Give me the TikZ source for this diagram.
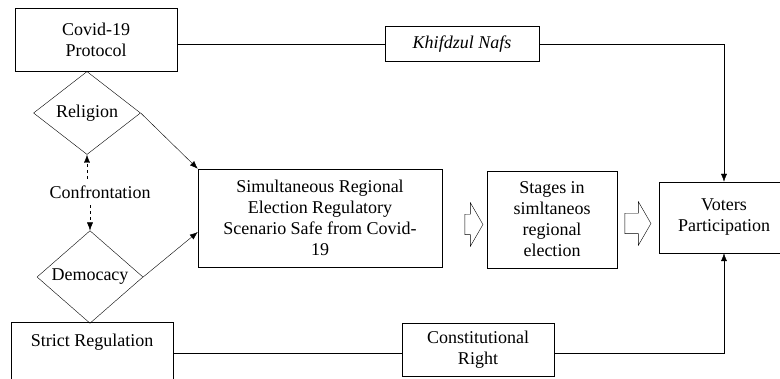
\documentclass[tikz,border=0pt]{standalone}
\usepackage{fontspec}
\setmainfont{Liberation Serif}
\usepackage{tikz}
\usetikzlibrary{arrows.meta}
\usetikzlibrary{shapes.geometric,shapes.arrows}

\begin{document}
\begin{tikzpicture}[x=1pt,y=-1pt,
  boxnode/.style={draw, rectangle, align=center, inner sep=0pt, font=\fontsize{18}{21}\selectfont},
  diamondnode/.style={draw, diamond, inner sep=0pt, font=\fontsize{18}{21}\selectfont},
  hollownode/.style={draw, single arrow, inner sep=0pt, minimum width=43pt, text height=20pt, single arrow head extend=11.5pt, single arrow tip angle=120}]
\tikzset{edge/.style = {-{Latex[width=6pt, length = 8pt]}}}
\useasboundingbox (0,0) rectangle (780,379);
\node[boxnode, minimum width=162pt, minimum height=63pt] (covid) at (96,40) {Covid-19\\Protocol};
\node[boxnode, minimum width=154pt, minimum height=35pt, font=\fontsize{18}{21}\selectfont\itshape] (khif) at (462,44) {Khifdzul Nafs};
\node[diamondnode, minimum width=107pt, minimum height=83pt] (relig) at (87,113) {Religion};
\node[font=\fontsize{18}{21}\selectfont, inner sep=0pt, minimum height=26pt] (confront) at (100,192) {Confrontation};
\node[diamondnode, minimum width=106pt, minimum height=81pt] (democ) at (90,277) {Democacy};
\node[boxnode, minimum width=162pt, text height=25pt, text depth=37pt] (strict) at (92,353) {Strict Regulation};
\node[boxnode, minimum width=152pt, minimum height=53pt] (constit) at (478,350) {Constitutional\\Right};
\node[boxnode, minimum width=244pt, minimum height=98pt] (simult) at (320,218) {Simultaneous Regional\\Election Regulatory\\Scenario Safe from Covid-\\19};
\node[boxnode, minimum width=130pt, minimum height=97pt] (stages) at (552,219.5) {Stages in\\simltaneos\\regional\\election};
\node[boxnode, minimum width=130pt, minimum height=71pt] (voters) at (724,217.5) {Voters\\Participation};
\node[hollownode, minimum height=18pt] (h1) at (471,224.5) {};
\node[hollownode, minimum height=26pt] (h2) at (635,223.5) {};
\draw (covid.east |- khif.west) -- (khif.west);
\draw[edge] (khif.east) -| (voters.north);
\draw (strict.east) -- (strict.east -| constit.west);
\draw[edge] (strict.east -| constit.east) -| (voters.south);
\draw[edge] (relig.east) -- (simult.north west);
\draw[edge] (democ.east) -- ([yshift=-14pt]simult.west);
\draw[edge, dashed] (relig.south |- confront.north) -- (relig.south);
\draw[edge, dashed] (democ.north |- confront.south) -- (democ.north);
\end{tikzpicture}
\end{document}
